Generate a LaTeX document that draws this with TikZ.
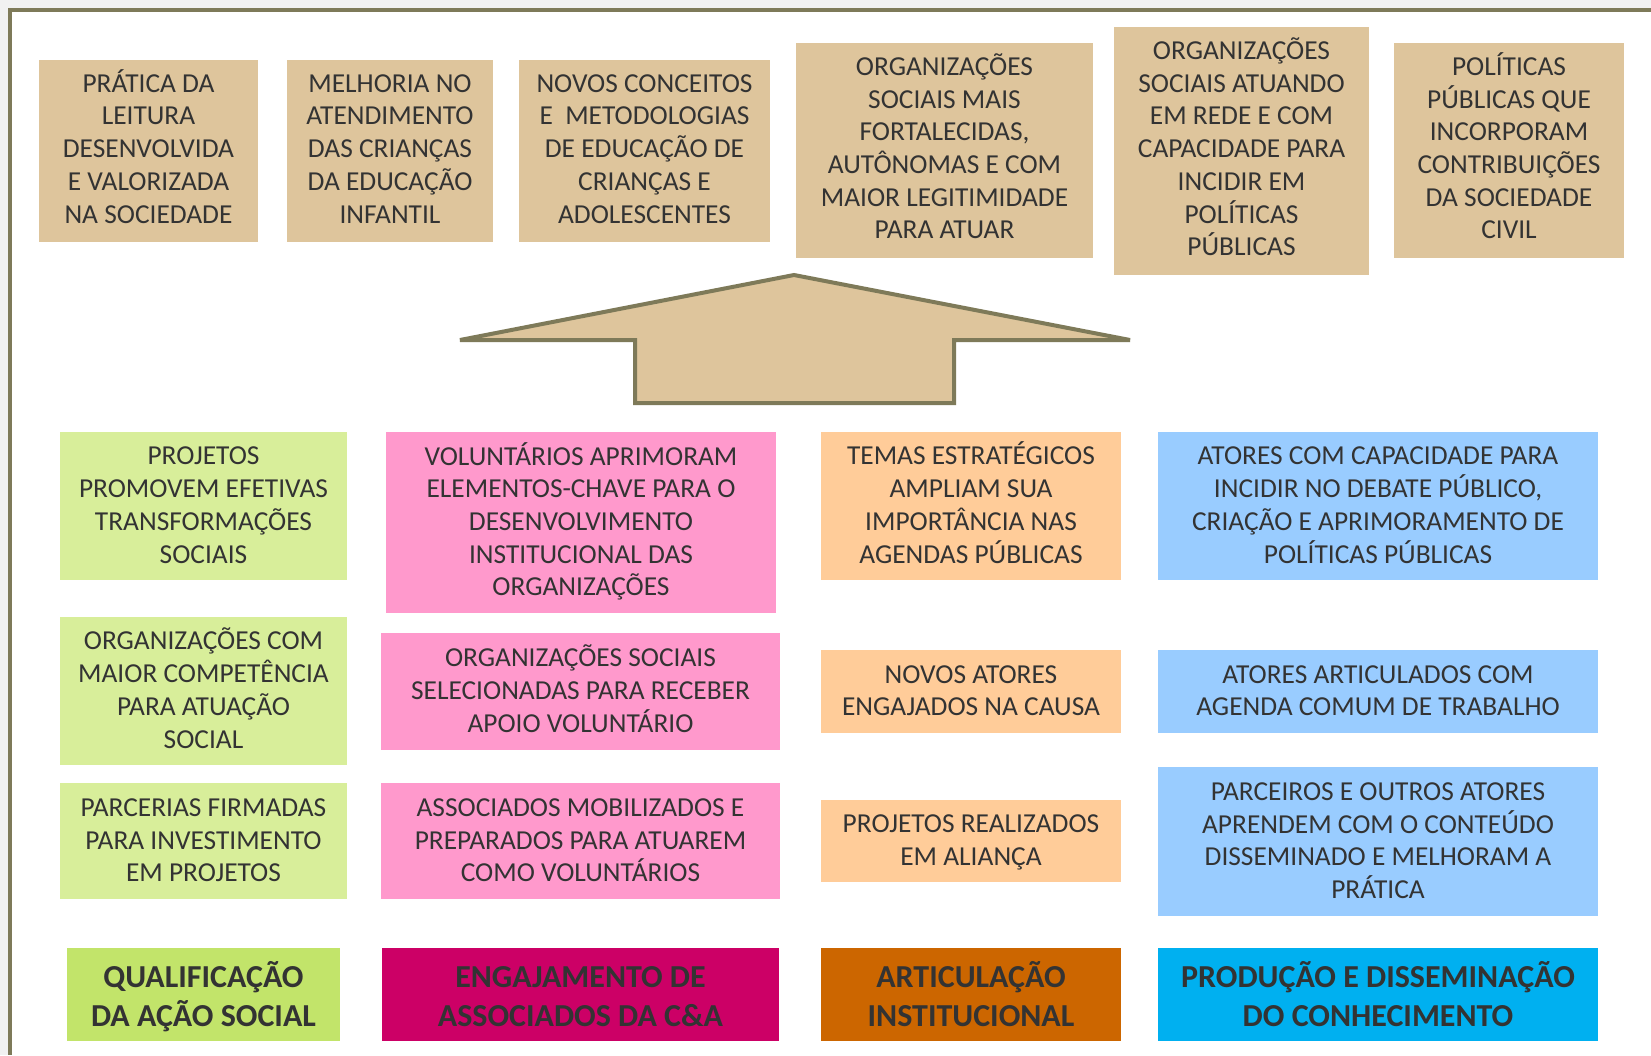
\documentclass[tikz,border=0pt]{standalone}
\usepackage{fontspec}
\setmainfont{Carlito}
\definecolor{tan}{HTML}{DEC59C}
\definecolor{olive}{HTML}{7E7A59}
\definecolor{bggray}{HTML}{F1F1F1}
\definecolor{txt}{HTML}{333333}
\definecolor{greenL}{HTML}{D8EE9A}
\definecolor{greenD}{HTML}{C2E46A}
\definecolor{pinkL}{HTML}{FF99CC}
\definecolor{pinkD}{HTML}{CC0066}
\definecolor{peachL}{HTML}{FFCC99}
\definecolor{peachD}{HTML}{CC6600}
\definecolor{blueL}{HTML}{99CCFF}
\definecolor{blueD}{HTML}{00B0F0}
% struts fixing the first-line height and last-line depth of every text block
\newcommand\tstrut{\rule{0pt}{26pt}}
\newcommand\tend{\rule[-10pt]{0pt}{10pt}}
\newcommand\tanend{\rule[-12.8pt]{0pt}{12.8pt}}
\newcommand\lstrut{\rule{0pt}{36.6pt}}
\newcommand\lend{\rule[-12pt]{0pt}{12pt}}
\tikzset{
  basebox/.style={rectangle, inner sep=0pt, outer sep=0pt, align=center, text=txt},
  box/.style={basebox, font=\fontsize{27.4}{32.7}\selectfont},
  tanbox/.style={box, fill=tan, execute at end node=\tanend},
  gbox/.style={box, fill=greenL, execute at end node=\tend},
  pbox/.style={box, fill=pinkL, execute at end node=\tend},
  obox/.style={box, fill=peachL, execute at end node=\tend},
  bbox/.style={box, fill=blueL, execute at end node=\tend},
  lbl/.style={basebox, font=\fontsize{32}{39}\selectfont\bfseries,
    execute at end node=\lend},
  sz/.style n args={2}{minimum width=#1pt, minimum height=#2pt},
}
\begin{document}
\begin{tikzpicture}[x=1pt,y=-1pt]
\useasboundingbox (0,0) rectangle (1651,1055);
\fill[bggray] (0,0) rectangle (1651,1055);
\fill[white] (10,9.5) rectangle (1651,1055);
\draw[olive, line width=4pt] (1651,9.5) -- (10,9.5) -- (10,1055);

% top outcomes
\node[tanbox, sz={219}{182}] (t1) at (148.5,151) {\tstrut PRÁTICA DA\\LEITURA\\DESENVOLVIDA\\E VALORIZADA\\NA SOCIEDADE};
\node[tanbox, sz={206}{182}] (t2) at (390,151) {\tstrut MELHORIA NO\\ATENDIMENTO\\DAS CRIANÇAS\\DA EDUCAÇÃO\\INFANTIL};
\node[tanbox, sz={251}{182}] (t3) at (644.5,151) {\tstrut NOVOS CONCEITOS\\E \ METODOLOGIAS\\DE EDUCAÇÃO DE\\CRIANÇAS E\\ADOLESCENTES};
\node[tanbox, sz={297}{215}] (t4) at (944.5,150.5) {\tstrut ORGANIZAÇÕES\\SOCIAIS MAIS\\FORTALECIDAS,\\AUTÔNOMAS E COM\\MAIOR LEGITIMIDADE\\PARA ATUAR};
\node[tanbox, sz={255}{248}] (t5) at (1241.5,151) {\tstrut ORGANIZAÇÕES\\SOCIAIS ATUANDO\\EM REDE E COM\\CAPACIDADE PARA\\INCIDIR EM\\POLÍTICAS\\PÚBLICAS};
\node[tanbox, sz={230}{215}] (t6) at (1509,150.5) {\tstrut POLÍTICAS\\PÚBLICAS QUE\\INCORPORAM\\CONTRIBUIÇÕES\\DA SOCIEDADE\\CIVIL};

% big arrow
\draw[fill=tan, draw=olive, line width=4pt, line join=miter]
  (794,275) -- (1130,340) -- (954,340) -- (954,403) -- (635,403) -- (635,340) -- (460,340) -- cycle;

% column 1
\node[gbox, sz={287}{148}] (a1) at (203.5,506) {\tstrut PROJETOS\\PROMOVEM EFETIVAS\\TRANSFORMAÇÕES\\SOCIAIS};
\node[gbox, sz={287}{148}] (a2) at (203.5,691) {\tstrut ORGANIZAÇÕES COM\\MAIOR COMPETÊNCIA\\PARA ATUAÇÃO\\SOCIAL};
\node[gbox, sz={287}{116}] (a3) at (203.5,841) {\tstrut PARCERIAS FIRMADAS\\PARA INVESTIMENTO\\EM PROJETOS};
\node[lbl, fill=greenD, sz={273}{93}] (la) at (203.5,994.5) {\lstrut QUALIFICAÇÃO\\DA AÇÃO SOCIAL};

% column 2
\node[pbox, sz={390}{181}] (b1) at (581,522.5) {\tstrut VOLUNTÁRIOS APRIMORAM\\ELEMENTOS-CHAVE PARA O\\DESENVOLVIMENTO\\INSTITUCIONAL DAS\\ORGANIZAÇÕES};
\node[pbox, sz={399}{117}] (b2) at (580.5,691.5) {\tstrut ORGANIZAÇÕES SOCIAIS\\SELECIONADAS PARA RECEBER\\APOIO VOLUNTÁRIO};
\node[pbox, sz={399}{116}] (b3) at (580.5,841) {\tstrut ASSOCIADOS MOBILIZADOS E\\PREPARADOS PARA ATUAREM\\COMO VOLUNTÁRIOS};
\node[lbl, fill=pinkD, sz={397}{93}] (lb) at (580.5,994.5) {\lstrut ENGAJAMENTO DE\\ASSOCIADOS DA C\&A};

% column 3
\node[obox, sz={300}{148}] (c1) at (971,506) {\tstrut TEMAS ESTRATÉGICOS\\AMPLIAM SUA\\IMPORTÂNCIA NAS\\AGENDAS PÚBLICAS};
\node[obox, sz={300}{83}] (c2) at (971,691.5) {\tstrut NOVOS ATORES\\ENGAJADOS NA CAUSA};
\node[obox, sz={300}{82}] (c3) at (971,841) {\tstrut PROJETOS REALIZADOS\\EM ALIANÇA};
\node[lbl, fill=peachD, sz={300}{93}] (lc) at (971,994.5) {\lstrut ARTICULAÇÃO\\INSTITUCIONAL};

% column 4
\node[bbox, sz={440}{148}] (d1) at (1378,506) {\tstrut ATORES COM CAPACIDADE PARA\\INCIDIR NO DEBATE PÚBLICO,\\CRIAÇÃO E APRIMORAMENTO DE\\POLÍTICAS PÚBLICAS};
\node[bbox, sz={440}{83}] (d2) at (1378,691.5) {\tstrut ATORES ARTICULADOS COM\\AGENDA COMUM DE TRABALHO};
\node[bbox, sz={440}{149}] (d3) at (1378,841.5) {\tstrut PARCEIROS E OUTROS ATORES\\APRENDEM COM O CONTEÚDO\\DISSEMINADO E MELHORAM A\\PRÁTICA};
\node[lbl, fill=blueD, sz={440}{93}] (ld) at (1378,994.5) {\lstrut PRODUÇÃO E DISSEMINAÇÃO\\DO CONHECIMENTO};
\end{tikzpicture}
\end{document}
